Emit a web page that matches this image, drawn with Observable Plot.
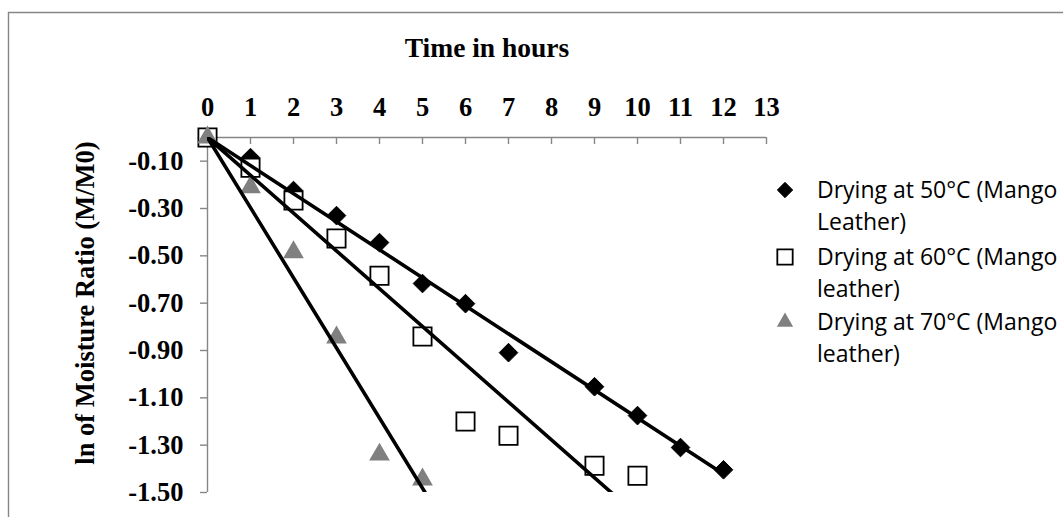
<!DOCTYPE html>
<html><head><meta charset="utf-8">
<script src="https://cdn.jsdelivr.net/npm/d3@7"></script>
<script src="https://cdn.jsdelivr.net/npm/@observablehq/plot@0.6"></script>
<style>
body{margin:0;background:#fff;}
#wrap{position:relative;width:1063px;height:517px;overflow:hidden;background:#fff;}
#wrap svg{display:block;}
#overlay{position:absolute;left:0;top:0;pointer-events:none;}
</style></head><body>
<div id="wrap"></div>
<script>
// ---- data ----
const seriesNames = ["Drying at 50°C (Mango Leather)", "Drying at 60°C (Mango leather)", "Drying at 70°C (Mango leather)"];
const legendLines = [["Drying at 50°C (Mango", "Leather)"], ["Drying at 60°C (Mango", "leather)"], ["Drying at 70°C (Mango", "leather)"]];
const hours50 = [0, 1, 2, 3, 4, 5, 6, 7, 9, 10, 11, 12];
const lnMR50  = [0, -0.085, -0.224, -0.33, -0.444, -0.617, -0.702, -0.909, -1.053, -1.175, -1.31, -1.404];
const hours60 = [0, 1, 2, 3, 4, 5, 6, 7, 9, 10];
const lnMR60  = [0, -0.128, -0.266, -0.427, -0.584, -0.841, -1.2, -1.26, -1.387, -1.429];
const hours70 = [0, 1, 2, 3, 4, 5];
const lnMR70  = [0, -0.21, -0.485, -0.845, -1.34, -1.445];
const trendForward = [0, 0, 0.3];
const xTicks = [0, 1, 2, 3, 4, 5, 6, 7, 8, 9, 10, 11, 12, 13];
const yTicks = [-0.1, -0.3, -0.5, -0.7, -0.9, -1.1, -1.3, -1.5];
const xTitle = "Time in hours";
const yTitle = "ln of Moisture Ratio (M/M0)";

const serif = "'Liberation Serif', 'Times New Roman', serif";
const sans = "'Open Sans', 'Noto Sans', sans-serif";
const axisGray = "#868686";
const triGray = "#808080";

const series = [
  {name: seriesNames[0], hours: hours50, lnMR: lnMR50},
  {name: seriesNames[1], hours: hours60, lnMR: lnMR60},
  {name: seriesNames[2], hours: hours70, lnMR: lnMR70}
];
const rows = series.map(s => s.hours.map((h, i) => ({series: s.name, x: h, y: s.lnMR[i]})));

// linear trendlines forced through the origin (least squares)
const fits = series.flatMap((s, j) => {
  const sxy = d3.sum(s.hours, (h, i) => h * s.lnMR[i]);
  const sxx = d3.sum(s.hours, h => h * h);
  const k = sxy / sxx;
  const xEnd = d3.max(s.hours) + trendForward[j];
  return [{series: s.name, x: 0, y: 0}, {series: s.name, x: xEnd, y: k * xEnd}];
});

const W = 1063, H = 517, mL = 207, mR = 297, mT = 137, mB = 25;
const frameH = H - mT - mB;

const chart = Plot.plot({
  width: W, height: H,
  marginLeft: mL, marginRight: mR, marginTop: mT, marginBottom: mB,
  style: {fontFamily: serif, background: "transparent", overflow: "visible"},
  x: {domain: [0, 13]},
  y: {domain: [-1.5, 0]},
  marks: [
    Plot.ruleY([0], {stroke: axisGray, strokeWidth: 1.4}),
    Plot.ruleX([0], {stroke: axisGray, strokeWidth: 1.4}),
    Plot.tickX(xTicks.slice(1), {x: d => d, stroke: axisGray, strokeWidth: 1.4, insetBottom: frameH - 7}),
    Plot.axisX(xTicks, {anchor: "top", tickSize: 0, tickPadding: 22, fontSize: 26.5, fontWeight: "bold", fill: "black",
      label: xTitle, labelAnchor: "center", labelOffset: 100, labelArrow: "none"}),
    Plot.axisY(yTicks, {anchor: "left", tickSize: 7, tickPadding: 17, stroke: axisGray, strokeWidth: 1.4, fill: "black",
      fontSize: 26.5, fontWeight: "bold", tickFormat: d => d.toFixed(2), label: null}),
    Plot.text([yTitle], {text: d => d, frameAnchor: "left", textAnchor: "middle", rotate: -90, dx: -122, dy: -12, fontSize: 26.5, fontWeight: "bold", lineAnchor: "middle", fill: "black"}),
    Plot.dot(rows[0], {x: "x", y: "y", symbol: "diamond2", r: 8.4, fill: "black", stroke: "black", strokeWidth: 1}),
    Plot.dot(rows[1], {x: "x", y: "y", symbol: "square2", r: 11.6, fill: "white", stroke: "black", strokeWidth: 1.8}),
    Plot.dot(rows[2], {x: "x", y: "y", symbol: "triangle2", r: 9.9, fill: triGray, stroke: "none"}),
    Plot.line(fits, {x: "x", y: "y", z: "series", stroke: "black", strokeWidth: 3.6, clip: true})
  ]
});
const wrap = document.getElementById("wrap");
wrap.appendChild(chart);
// larger axis title to match reference
d3.select(chart).selectAll("[aria-label='x-axis label'] text").attr("font-size", 27.5);

// overlay: chart border + legend
const ov = d3.select(wrap).append("svg").attr("id", "overlay").attr("width", W).attr("height", H);
ov.append("path").attr("d", `M8.5,${H} V12.5 H${W}`).attr("fill", "none").attr("stroke", axisGray).attr("stroke-width", 1.4);

const legendSymbols = [
  {type: d3.symbolDiamond2, size: 150, fill: "black", stroke: "black", sw: 1},
  {type: d3.symbolSquare2, size: 300, fill: "white", stroke: "black", sw: 1.8},
  {type: d3.symbolTriangle2, size: 190, fill: triGray, stroke: "none", sw: 0}
];
const legendBase = [198, 265, 330];
const lg = ov.append("g");
legendLines.forEach((lines, i) => {
  const s = legendSymbols[i];
  lg.append("path")
    .attr("d", d3.symbol(s.type, s.size)())
    .attr("transform", `translate(785,${legendBase[i] - 8})`)
    .attr("fill", s.fill).attr("stroke", s.stroke).attr("stroke-width", s.sw);
  lines.forEach((t, j) => {
    lg.append("text").attr("x", 817).attr("y", legendBase[i] + j * 32)
      .attr("font-family", sans).attr("font-size", 23).attr("fill", "black").text(t);
  });
});
</script>
</body></html>
